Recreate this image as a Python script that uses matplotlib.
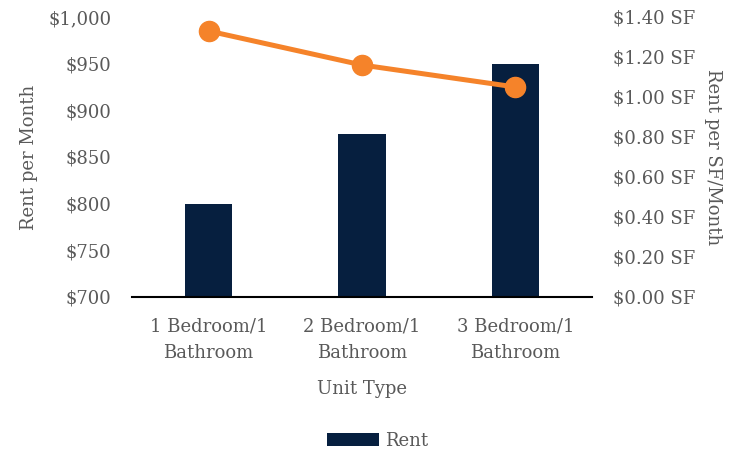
import matplotlib.pyplot as plt
from matplotlib.ticker import FuncFormatter

plt.rcParams['font.family'] = ['DejaVu Serif']

# data
unit_types = ['1 Bedroom/1\nBathroom', '2 Bedroom/1\nBathroom', '3 Bedroom/1\nBathroom']
rent = [800, 875, 950]
rent_per_sf = [1.33, 1.16, 1.05]

navy = '#061f3f'
orange = '#f5832a'
grey = '#595959'
fs = 13

fig = plt.figure(figsize=(7.34, 4.51), dpi=100)
ax = fig.add_axes([132 / 734, 1 - 297 / 451, 460 / 734, 280 / 451])
x = range(len(unit_types))

bars = ax.bar(x, rent, width=0.31, color=navy, label='Rent', zorder=2)
ax.set_ylim(700, 1000)
ax.set_yticks(range(700, 1001, 50))
ax.yaxis.set_major_formatter(FuncFormatter(lambda v, p: f'${v:,.0f}'))
ax.set_xlim(-0.5, 2.5)
ax.set_xticks(list(x))
ax.set_xticklabels(unit_types, linespacing=1.55)
ax.set_ylabel('Rent per Month', color=grey, fontsize=fs, labelpad=7)
ax.set_xlabel('Unit Type', color=grey, fontsize=fs, labelpad=13)

ax2 = ax.twinx()
ax2.plot(list(x), rent_per_sf, color=orange, lw=3.6, marker='o', ms=14.5, zorder=3)
ax2.set_ylim(0, 1.4)
ax2.set_yticks([i * 0.2 for i in range(8)])
ax2.yaxis.set_major_formatter(FuncFormatter(lambda v, p: f'${v:.2f} SF'))
ax2.set_ylabel('Rent per SF/Month', color=grey, fontsize=fs, rotation=270, labelpad=19)

for a in (ax, ax2):
    for s in ('top', 'left', 'right', 'bottom'):
        a.spines[s].set_visible(False)
    a.tick_params(axis='y', length=0, labelsize=fs, labelcolor=grey, pad=15)
ax.tick_params(axis='x', length=0, labelsize=fs, labelcolor=grey, pad=15)
ax.spines['bottom'].set_visible(True)
ax.spines['bottom'].set_color('black')
ax.spines['bottom'].set_linewidth(1.5)

fig.legend(handles=[bars], labels=['Rent'], loc='center', bbox_to_anchor=(0.514, 1 - 441 / 451),
           frameon=False, fontsize=fs, handlelength=2.9, handleheight=0.7, labelcolor=grey,
           handletextpad=0.3)

fig.savefig('out.png', dpi=100)
